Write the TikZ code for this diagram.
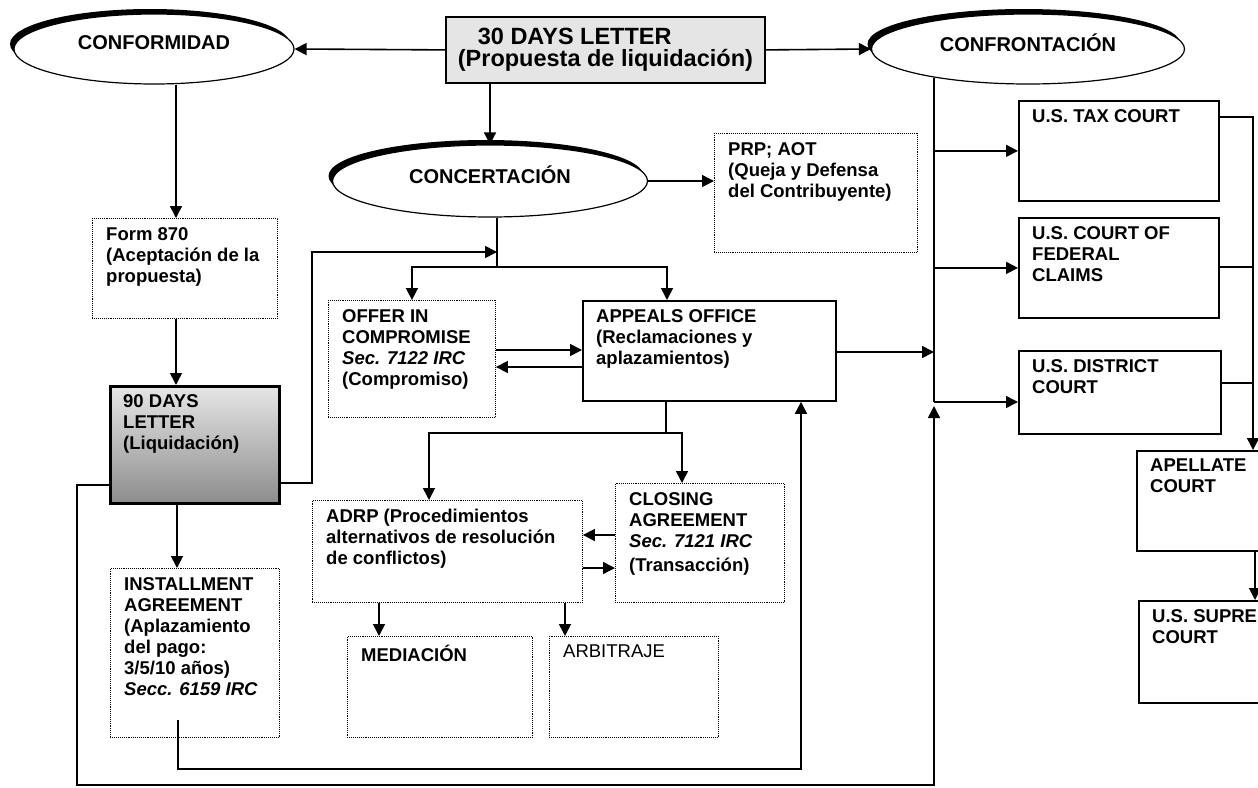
\documentclass[tikz,border=0pt]{standalone}
\usepackage{fontspec}
\setmainfont{Liberation Sans}
\usetikzlibrary{arrows.meta,shapes.geometric,shadows,positioning,calc}

\begin{document}
\begin{tikzpicture}[x=1pt, y=-1pt,
		font=\bfseries\fontsize{18.5}{21}\selectfont,
		oval/.style={ellipse, draw, line width=1.2pt, fill=white, text depth=12pt,
			drop shadow={shadow xshift=-4pt, shadow yshift=5pt, fill=black, opacity=1},
			font=\bfseries\fontsize{20}{24}\selectfont},
		dotbox/.style={draw, densely dotted, line width=0.9pt, anchor=north west, inner sep=0pt},
		solidbox/.style={draw, line width=1.8pt, anchor=north west, inner sep=0pt},
		boxtext/.style={anchor=north west, align=left, inner xsep=14pt, inner ysep=9pt},
		arr/.style={line width=1.6pt, -{Triangle[length=12pt,width=12pt]}},
		wire/.style={line width=1.6pt}]
		\clip (0,0) rectangle (1258,787);

		% top row
		\node[oval, minimum width=280pt, minimum height=70pt] (conf) at (154,49) {CONFORMIDAD};
		\node[solidbox, minimum width=319pt, minimum height=66pt, fill=black!10, align=left,
			font=\bfseries\fontsize{23.5}{21.5}\selectfont] (carta30) at (445,16) {\hspace*{20pt}30 DAYS LETTER\\(Propuesta de liquidación)};
		\node[oval, minimum width=313pt, minimum height=70pt] (confr) at (1028,49) {CONFRONTACIÓN};
		\node[oval, minimum width=315pt, minimum height=72pt] (conc) at (490,181) {CONCERTACIÓN};

		% conformidad branch
		\node[dotbox, minimum width=185pt, minimum height=100pt,
			label={[boxtext, name=formtxt]north west:{Form 870\\(Aceptación de la\\propuesta)}}] (form) at (92,218) {};
		\node[draw, line width=3pt, anchor=north west, inner sep=0pt, minimum width=169pt, minimum height=117pt,
			top color=black!10, bottom color=black!45,
			label={[boxtext, name=carta90txt]north west:{90 DAYS\\LETTER\\(Liquidación)}}] (carta90) at (109,385) {};
		\node[dotbox, minimum width=169pt, minimum height=169pt,
			label={[boxtext, name=insttxt]north west:{INSTALLMENT\\AGREEMENT\\(Aplazamiento\\del pago:\\3/5/10 años)\\\textit{Secc. 6159 IRC}}}] (inst) at (110,568) {};

		% concertacion branch
		\node[dotbox, minimum width=203pt, minimum height=119pt,
			label={[boxtext, name=prptxt]north west:{PRP; AOT\\(Queja y Defensa\\del Contribuyente)}}] (prp) at (714,133) {};
		\node[dotbox, minimum width=167pt, minimum height=117pt,
			label={[boxtext, name=offertxt]north west:{OFFER IN\\COMPROMISE\\\textit{Sec. 7122 IRC}\\(Compromiso)}}] (offer) at (328,300) {};
		\node[solidbox, minimum width=253pt, minimum height=100pt,
			label={[boxtext, name=appealstxt]north west:{APPEALS OFFICE\\(Reclamaciones y\\aplazamientos)}}] (appeals) at (582,300) {};
		\node[dotbox, minimum width=270pt, minimum height=102pt,
			label={[boxtext, name=adrptxt]north west:{ADRP (Procedimientos\\alternativos de resolución\\de conflictos)}}] (adrp) at (312,500) {};
		\node[dotbox, minimum width=169pt, minimum height=119pt,
			label={[boxtext, name=closingtxt]north west:{CLOSING\\AGREEMENT\\\textit{Sec. 7121 IRC}\\[3pt](Transacción)}}] (closing) at (615,483) {};
		\node[dotbox, minimum width=185pt, minimum height=101pt,
			label={[boxtext, name=medtxt]north west:MEDIACIÓN}] (med) at (347,636) {};
		\node[dotbox, minimum width=169pt, minimum height=101pt,
			label={[boxtext, name=arbtxt, font=\mdseries\fontsize{18.5}{21}\selectfont]north west:ARBITRAJE}] (arb) at (549,636) {};

		% courts
		\node[solidbox, minimum width=200pt, minimum height=100pt,
			label={[boxtext, name=taxtxt]north west:U.S. TAX COURT}] (tax) at (1018,100) {};
		\node[solidbox, minimum width=200pt, minimum height=100pt,
			label={[boxtext, name=fedtxt]north west:{U.S. COURT OF\\FEDERAL\\CLAIMS}}] (fed) at (1018,217) {};
		\node[solidbox, minimum width=202pt, minimum height=83pt,
			label={[boxtext, name=disttxt]north west:{U.S. DISTRICT\\COURT}}] (dist) at (1018,350) {};
		\node[solidbox, minimum width=160pt, minimum height=100pt,
			label={[boxtext, name=apeltxt]north west:{APELLATE\\COURT}}] (apel) at (1136,450) {};
		\node[solidbox, minimum width=160pt, minimum height=102pt,
			label={[boxtext, name=suptxt]north west:{U.S. SUPREME\\COURT}}] (sup) at (1138,600) {};

		% helper coordinates
		\coordinate (lx) at (176,0);
		\coordinate (bus) at (934,0);
		\coordinate (rbus) at (1253,0);
		\coordinate (trunk) at (497,267);
		\coordinate (up90) at (312,252);
		\coordinate (loopL) at (77,785);
		\coordinate (instout) at (178,720);
		\coordinate (retx) at (801,769);
		\coordinate (split) at (666,433);
		\coordinate (bustop) at ($(bus |- confr.south)+(0,-7)$);

		% 30 days letter
		\draw[arr] (carta30.west) -- (conf.east);
		\draw[arr] (carta30.east) -- (confr.west);
		\draw[arr] (conc.north |- carta30.south) -- (conc.north);

		% conformidad
		\draw[arr] (lx |- conf.south) -- (lx |- form.north);
		\draw[arr] (lx |- form.south) -- (lx |- carta90.north);
		\draw[arr] (177,0 |- carta90.south) -- (177,0 |- inst.north);
		\draw[arr] (carta90.east |- 0,483) -| (up90) -- (trunk |- up90);
		\draw[arr] (carta90.west |- 0,485) -| (loopL) -| (bus |- 0,406);
		\draw[arr] (instout) |- (retx) -- (retx |- appeals.south);

		% concertacion
		\draw[arr] (conc.east) -- (prp.west |- conc.east);
		\draw[wire] (trunk |- conc.south) -- (trunk);
		\draw[arr] (trunk) -| (offer.north);
		\draw[arr] (trunk) -| (667,0 |- appeals.north);
		\draw[arr] (offer.east |- 0,350) -- (appeals.west |- 0,350);
		\draw[arr] (appeals.west |- 0,367) -- (offer.east |- 0,367);
		\draw[wire] (appeals.south -| split) -- (split);
		\draw[arr] (split) -| (429,0 |- adrp.north);
		\draw[arr] (split) -| (682,0 |- closing.north);
		\draw[arr] (closing.west |- 0,535) -- (adrp.east |- 0,535);
		\draw[arr] (adrp.east |- 0,568) -- (closing.west |- 0,568);
		\draw[arr] (379,0 |- adrp.south) -- (379,0 |- med.north);
		\draw[arr] (565,0 |- adrp.south) -- (565,0 |- arb.north);

		% confrontacion
		\draw[arr] (appeals.east |- 0,352) -- (bus |- 0,352);
		\draw[wire] (bustop) -- (bus |- 0,402);
		\draw[arr] (bus |- tax.west) -- (tax.west);
		\draw[arr] (bus |- fed.west) -- (fed.west);
		\draw[arr] (bus |- 0,402) -- (dist.west |- 0,402);
		\draw[arr] (tax.east |- 0,117) -- (rbus |- 0,117) -- (rbus |- apel.north);
		\draw[wire] (fed.east |- 0,267) -- (rbus |- 0,267);
		\draw[wire] (dist.east |- 0,383) -- (rbus |- 0,383);
		\draw[arr] (1255,0 |- apel.south) -- (1255,0 |- sup.north);
	\end{tikzpicture}
\end{document}
